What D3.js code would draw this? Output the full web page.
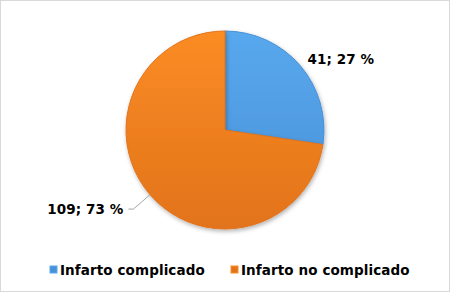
<!DOCTYPE html>
<html>
  <head>
    <meta charset="utf-8">
    <title>Infarto</title>
    <style>
      body { margin: 0; background: #fff; }
      text { font-family: "DejaVu Sans", Verdana, sans-serif; font-weight: bold; letter-spacing: 0.1px; }
    </style>
  </head>
  <body>
    <script src="https://cdn.jsdelivr.net/npm/d3@7"></script>
    <script type="text/javascript">
      var categories = ["Infarto complicado", "Infarto no complicado"];
      var values = [41, 109];
      var percents = ["27 %", "73 %"];
      var colors = [["#58a8ee", "#4890d6"], ["#fb8c24", "#e2731b"]];

      var width = 450, height = 292;
      var cx = 225, cy = 130, r = 99;

      var svg = d3.select("body").append("svg")
                  .attr("width", width)
                  .attr("height", height);

      svg.append("rect")
         .attr("x", 0.5).attr("y", 0.5)
         .attr("width", width - 1).attr("height", height - 1)
         .attr("fill", "#fff").attr("stroke", "#d9d9d9");

      var defs = svg.append("defs");
      colors.forEach(function(c, i) {
        var g = defs.append("linearGradient")
                    .attr("id", "grad" + i)
                    .attr("gradientUnits", "userSpaceOnUse")
                    .attr("x1", 0).attr("y1", -r)
                    .attr("x2", 0).attr("y2", r);
        g.append("stop").attr("offset", "0%").attr("stop-color", c[0]);
        g.append("stop").attr("offset", "100%").attr("stop-color", c[1]);
      });
      var f = defs.append("filter").attr("id", "shadow")
                  .attr("x", "-20%").attr("y", "-20%")
                  .attr("width", "140%").attr("height", "140%");
      f.append("feDropShadow").attr("dx", 1).attr("dy", 2)
       .attr("stdDeviation", 2).attr("flood-color", "#000")
       .attr("flood-opacity", 0.3);

      var pie = d3.pie().sort(null)(values);
      var arc = d3.arc().innerRadius(0).outerRadius(r);

      var g = svg.append("g").attr("transform", "translate(" + cx + "," + cy + ")");

      g.selectAll("path.slice")
       .data(pie)
       .enter()
       .append("path")
       .attr("class", "slice")
       .attr("d", arc)
       .attr("fill", function(d, i) { return "url(#grad" + i + ")"; })
       .attr("stroke", function(d, i) { return colors[i][1]; })
       .attr("stroke-width", 1)
       .attr("filter", "url(#shadow)");

      function pt(a, rad) { return [rad * Math.sin(a), -rad * Math.cos(a)]; }

      pie.forEach(function(d, i) {
        var mid = (d.startAngle + d.endAngle) / 2;
        var label = values[i] + "; " + percents[i];
        if (Math.sin(mid) >= 0) {
          var p = pt(mid, r + 10);
          g.append("text")
           .attr("x", p[0]).attr("y", p[1] + 5)
           .attr("text-anchor", "start")
           .attr("font-size", 13.5)
           .attr("fill", "#000")
           .text(label);
        } else {
          var a = pt(mid, r);
          var b = pt(mid, r + 22);
          g.append("polyline")
           .attr("points", [a, b, [b[0] - 5, b[1]]].map(function(q) { return q.join(","); }).join(" "))
           .attr("fill", "none")
           .attr("stroke", "#a6a6a6");
          g.append("text")
           .attr("x", b[0] - 10).attr("y", b[1] + 5)
           .attr("text-anchor", "end")
           .attr("font-size", 13.5)
           .attr("fill", "#000")
           .text(label);
        }
      });

      var legendX = d3.scaleOrdinal().domain(categories).range([50, 231]);
      var legend = svg.selectAll("g.legend")
                      .data(categories)
                      .enter()
                      .append("g")
                      .attr("class", "legend")
                      .attr("transform", function(d) { return "translate(" + legendX(d) + ",270)"; });
      legend.append("rect")
            .attr("x", 0).attr("y", -4)
            .attr("width", 7).attr("height", 7)
            .attr("fill", function(d, i) { return colors[i][1]; })
            .attr("stroke", function(d, i) { return colors[i][0]; });
      legend.append("text")
            .attr("x", 10).attr("y", 5)
            .attr("font-size", 13.5)
            .attr("fill", "#000")
            .text(function(d) { return d; });
    </script>
  </body>
</html>
